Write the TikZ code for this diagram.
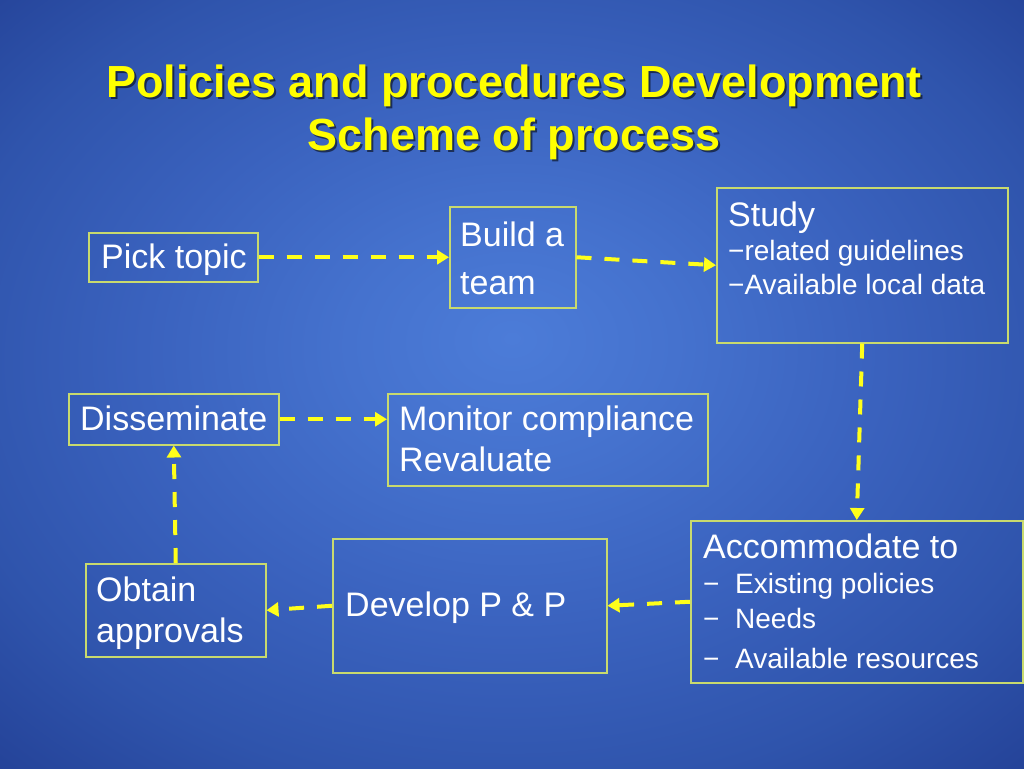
\documentclass[tikz,border=0pt]{standalone}
\usepackage{fontspec}
\setmainfont{Liberation Sans}
\usetikzlibrary{arrows.meta}
\definecolor{bgin}{HTML}{4C7CD8}
\definecolor{bgmid}{HTML}{4572CE}
\definecolor{bgmid2}{HTML}{3A62BE}
\definecolor{bgmid3}{HTML}{2F54AC}
\definecolor{bgout}{HTML}{223F94}
\definecolor{bgcorner}{HTML}{152C74}
\definecolor{boxline}{HTML}{C8DA6E}
\definecolor{arr}{HTML}{FFFF1A}
\definecolor{ttl}{HTML}{FFFF00}
\pgfdeclareradialshading{bgshade}{\pgfpoint{0bp}{3bp}}{color(0bp)=(bgin); color(8bp)=(bgmid); color(18bp)=(bgmid2); color(28bp)=(bgmid3); color(38bp)=(bgout); color(50bp)=(bgcorner)}
\begin{document}
\begin{tikzpicture}[x=1pt,y=-1pt,
  box/.style={draw=boxline, line width=1.5pt, rectangle, inner sep=0pt, anchor=north west},
  txt/.style={text=white, inner sep=0pt, anchor=base west, font=\fontsize{34}{40}\selectfont},
  small/.style={text=white, inner sep=0pt, anchor=base west, font=\fontsize{28}{33}\selectfont},
  mid/.style={text=white, inner sep=0pt, anchor=base west, font=\fontsize{28}{33}\selectfont},
  flow/.style={draw=arr, line width=4pt, dash pattern=on 15pt off 13pt, -{Triangle[length=12pt,width=14pt]}},
  ttlstyle/.style={inner sep=0pt, anchor=base, font=\fontsize{45}{52}\selectfont\bfseries}
]
\useasboundingbox (0,0) rectangle (1024,768);
\shade[shading=bgshade] (0,0) rectangle (1024,768);

% title
\node[ttlstyle, text=black, opacity=0.55] at (516,99) {Policies and procedures Development};
\node[ttlstyle, text=black, opacity=0.55] at (516,152) {Scheme of process};
\node[ttlstyle, text=ttl] (t1) at (514,97) {Policies and procedures Development};
\node[ttlstyle, text=ttl] (t2) at (514,150) {Scheme of process};

% boxes
\node[box, minimum width=169pt, minimum height=49pt] (pick) at (88,232) {};
\node[box, minimum width=126pt, minimum height=101pt] (build) at (449,206) {};
\node[box, minimum width=291pt, minimum height=155pt] (study) at (716,187) {};
\node[box, minimum width=210pt, minimum height=51pt] (dissem) at (68,393) {};
\node[box, minimum width=320pt, minimum height=92pt] (monitor) at (387,393) {};
\node[box, minimum width=180pt, minimum height=93pt] (obtain) at (85,563) {};
\node[box, minimum width=274pt, minimum height=134pt] (develop) at (332,538) {};
\node[box, minimum width=332pt, minimum height=162pt] (accom) at (690,520) {};

% texts
\node[txt] at (101,268) {Pick topic};
\node[txt] at (460,246) {Build a};
\node[txt] at (460,294) {team};
\node[txt] at (728,226) {Study};
\node[small] at (728,260) {−related guidelines};
\node[small] at (728,294) {−Available local data};
\node[txt] at (80,430) {Disseminate};
\node[txt] at (399,430) {Monitor compliance};
\node[txt] at (399,471) {Revaluate};
\node[txt] at (96,601) {Obtain};
\node[txt] at (96,642) {approvals};
\node[txt] at (345,616) {Develop P \& P};
\node[txt] at (703,558) {Accommodate to};
\node[mid] at (703,593) {−};
\node[mid] at (735,593) {Existing policies};
\node[mid] at (703,628) {−};
\node[mid] at (735,628) {Needs};
\node[mid] at (703,668) {−};
\node[mid] at (735,668) {Available resources};

% connectors
\draw[flow] (pick.east) -- (build.west);
\draw[flow] (build.east) -- (study.west);
\draw[flow] (study.south) -- (accom.north);
\draw[flow] (accom.west) -- (develop.east);
\draw[flow] (develop.west) -- (obtain.east);
\draw[flow] (obtain.north) -- (dissem.south);
\draw[flow] (dissem.east) -- (dissem.east -| monitor.west);
\end{tikzpicture}
\end{document}
